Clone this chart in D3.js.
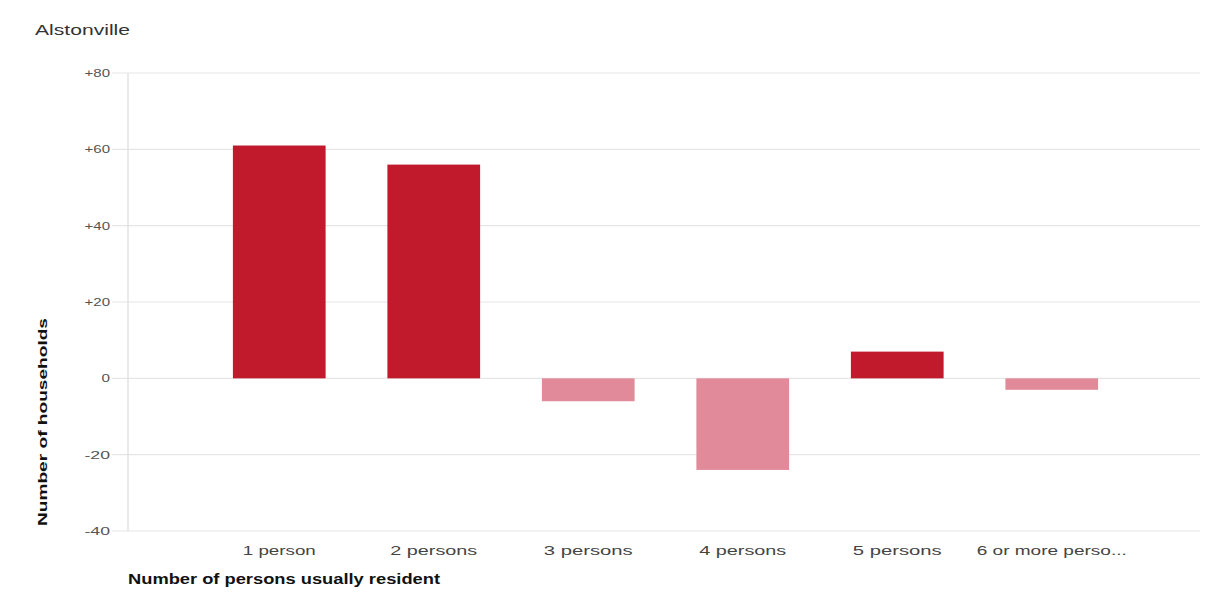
<!DOCTYPE html>
<html>
<head>
<meta charset="utf-8">
<script src="https://cdn.jsdelivr.net/npm/d3@7"></script>
<style>
  html, body { margin: 0; padding: 0; background: #fff; }
  svg { display: block; font-family: "Liberation Sans", Arial, sans-serif; }
</style>
</head>
<body>
<svg id="chart" width="1218" height="599"></svg>
<script>
const categories = ["1 person", "2 persons", "3 persons", "4 persons", "5 persons", "6 or more perso..."];
const values = [61, 56, -6, -24, 7, -3];
const yTicks = [-40, -20, 0, 20, 40, 60, 80];
const titleText = "Alstonville";
const yTitle = "Number of households";
const xTitle = "Number of persons usually resident";

const svg = d3.select("#chart");
const plotLeft = 128, plotRight = 1200;
const y = d3.scaleLinear().domain([-40, 80]).range([531, 73]);
const x = d3.scaleBand().domain(categories).range([202, 1129]).paddingInner(0.4).paddingOuter(0.2);

const fmt = d => d > 0 ? "+" + d : String(d);

// gridlines
svg.append("g").selectAll("line").data(yTicks).join("line")
  .attr("x1", 112).attr("x2", plotRight)
  .attr("y1", d => y(d)).attr("y2", d => y(d))
  .attr("stroke", "#e6e6e6").attr("stroke-width", 1.2);

// vertical axis line
svg.append("line").attr("x1", plotLeft).attr("x2", plotLeft)
  .attr("y1", y(80)).attr("y2", y(-40))
  .attr("stroke", "#dcdcdc").attr("stroke-width", 1.2);

// tick labels
svg.append("g").selectAll("text").data(yTicks).join("text")
  .attr("x", 110).attr("y", d => y(d) + 4)
  .attr("text-anchor", "end")
  .attr("font-size", 11).attr("fill", "#555")
  .attr("textLength", d => fmt(d).length * 8.5)
  .attr("lengthAdjust", "spacingAndGlyphs")
  .text(fmt);

// bars
svg.append("g").selectAll("rect").data(values).join("rect")
  .attr("x", (d, i) => x(categories[i]))
  .attr("width", x.bandwidth())
  .attr("y", d => y(Math.max(0, d)))
  .attr("height", d => Math.abs(y(d) - y(0)))
  .attr("fill", d => d >= 0 ? "#c01a2c" : "#e08a9a");

// category labels
const labelWidths = [73, 87, 89, 87, 89, 150];
svg.append("g").selectAll("text").data(categories).join("text")
  .attr("x", d => x(d) + x.bandwidth() / 2)
  .attr("y", 555)
  .attr("text-anchor", "middle")
  .attr("font-size", 12).attr("fill", "#444")
  .attr("textLength", (d, i) => labelWidths[i])
  .attr("lengthAdjust", "spacingAndGlyphs")
  .text(d => d);

// title
svg.append("text").attr("x", 35).attr("y", 35)
  .attr("font-size", 14).attr("fill", "#333")
  .attr("textLength", 95).attr("lengthAdjust", "spacingAndGlyphs")
  .text(titleText);

// x axis title
svg.append("text").attr("x", 128).attr("y", 584)
  .attr("font-size", 14).attr("font-weight", "bold").attr("fill", "#111")
  .attr("textLength", 312).attr("lengthAdjust", "spacingAndGlyphs")
  .text(xTitle);

// y axis title
svg.append("text")
  .attr("transform", "translate(47,422) rotate(-90)")
  .attr("text-anchor", "middle")
  .attr("font-size", 13).attr("font-weight", "bold").attr("fill", "#111")
  .attr("textLength", 208).attr("lengthAdjust", "spacingAndGlyphs")
  .text(yTitle);
</script>
</body>
</html>
